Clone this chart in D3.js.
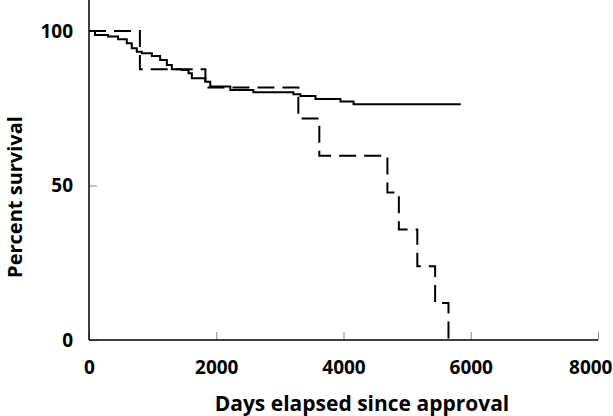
<!DOCTYPE html>
<html>
<head>
<meta charset="utf-8">
<script src="https://cdn.jsdelivr.net/npm/d3@7"></script>
<style>
  body { margin: 0; background: #fff; }
  svg { display: block; font-family: "Open Sans", Lato, sans-serif; }
</style>
</head>
<body>
<svg class="chart" width="613" height="416"></svg>
<script>
// Kaplan-Meier style curves
var solidDays = [0, 94, 300, 457, 594, 672, 751, 830, 988, 1118, 1224, 1302, 1460, 1564, 1617, 1827, 1906, 2221, 2583, 3213, 3323, 3560, 3953, 4158, 5843];
var solidPct  = [100, 98.7, 98.2, 97.3, 96.0, 94.4, 93.3, 92.8, 91.9, 90.6, 89.0, 87.6, 87.4, 86.3, 84.7, 83.6, 82.0, 80.9, 80.2, 79.5, 79.0, 78.0, 77.2, 76.3, 76.3];

var dashDays = [0, 800, 1830, 3290, 3620, 4690, 4870, 5160, 5440, 5650];
var dashPct  = [100, 87.6, 81.7, 71.7, 59.6, 47.7, 35.8, 23.9, 12.0, 0];

var xTicks = [0, 2000, 4000, 6000, 8000];
var yTicks = [0, 50, 100];

var svg = d3.select("svg.chart");

var x = d3.scaleLinear().domain([0, 8000]).range([89, 598]);
var y = d3.scaleLinear().domain([0, 100]).range([340, 31]);

var toPoints = function(days, pct) {
  return days.map(function(d, i) { return {day: d, pct: pct[i]}; });
};

var line = d3.line()
  .curve(d3.curveStepAfter)
  .x(function(d) { return x(d.day); })
  .y(function(d) { return y(d.pct); });

// axes (ticks point inward)
var xAxis = svg.append("g")
  .attr("transform", "translate(0," + y(0) + ")")
  .call(d3.axisBottom(x).tickValues(xTicks).tickFormat(d3.format("d"))
    .tickSizeInner(-8).tickSizeOuter(0).tickPadding(21));
var yAxis = svg.append("g")
  .attr("transform", "translate(" + x(0) + ",0)")
  .call(d3.axisLeft(y).tickValues(yTicks).tickFormat(d3.format("d"))
    .tickSizeInner(-8).tickSizeOuter(0).tickPadding(16));

[xAxis, yAxis].forEach(function(a) {
  a.select(".domain").remove();
  a.selectAll(".tick line").attr("stroke", "#888").attr("stroke-width", 1);
  a.selectAll(".tick text")
    .attr("fill", "#000")
    .style("font-family", "'Open Sans', sans-serif")
    .style("font-size", "19px")
    .style("font-weight", "bold");
});

// last x label sits flush with the right edge, as in the original
xAxis.selectAll(".tick text")
  .filter(function(d) { return d === 8000; })
  .attr("text-anchor", "end")
  .attr("x", 613 - x(8000) - 1);

// axis lines
svg.append("line")
  .attr("x1", x(0)).attr("x2", x(0))
  .attr("y1", y(0)).attr("y2", 0)
  .attr("stroke", "#000").attr("stroke-width", 1.5);
svg.append("line")
  .attr("x1", x(0)).attr("x2", x(8000))
  .attr("y1", y(0)).attr("y2", y(0))
  .attr("stroke", "#000").attr("stroke-width", 1.5);

// curves
svg.append("path")
  .datum(toPoints(solidDays, solidPct))
  .attr("d", line)
  .attr("fill", "none")
  .attr("stroke", "#000")
  .attr("stroke-width", 2);

svg.append("path")
  .datum(toPoints(dashDays, dashPct))
  .attr("d", line)
  .attr("fill", "none")
  .attr("stroke", "#000")
  .attr("stroke-width", 2)
  .attr("stroke-dasharray", "17,8");

// titles
svg.append("text")
  .attr("x", 362).attr("y", 411)
  .attr("text-anchor", "middle")
  .style("font-size", "21px").style("font-weight", "bold")
  .text("Days elapsed since approval");

svg.append("text")
  .attr("transform", "translate(22,197) rotate(-90)")
  .attr("text-anchor", "middle")
  .style("font-size", "20px").style("font-weight", "bold")
  .text("Percent survival");
</script>
</body>
</html>
